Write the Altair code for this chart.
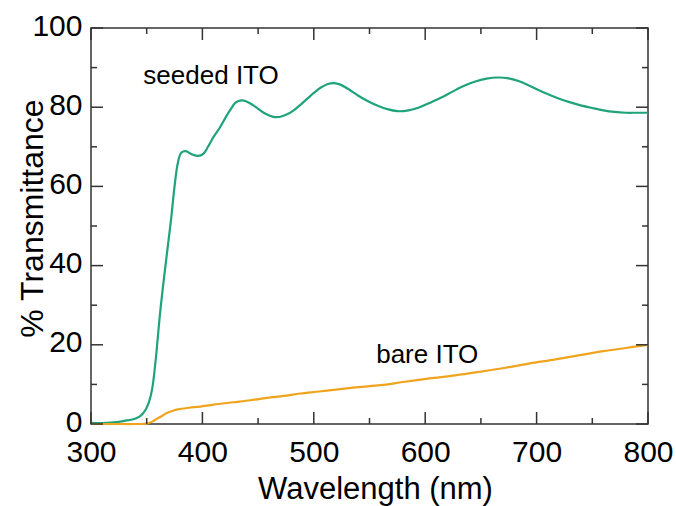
import altair as alt
import pandas as pd

# ---- data ----
seeded_wl = [300, 310, 320, 330, 340, 345, 349, 352, 355, 358, 362, 366, 369, 372, 375, 378, 381,
             385, 390, 396, 401, 405, 410, 416, 420, 425, 430, 435, 440, 445, 450, 455, 460, 465,
             470, 476, 482, 488, 494, 500, 506, 512, 518, 524, 532, 540, 550, 558, 566, 575, 585,
             595, 605, 615, 625, 635, 645, 655, 665, 675, 685, 695, 705, 718, 728, 738, 750, 760,
             770, 780, 790, 800]
seeded_T = [0.3, 0.2, 0.4, 0.8, 1.4, 2.2, 3.6, 5.5, 9.0, 16.0, 28.0, 38.0, 45.0, 52.0, 60.0, 66.0,
            68.5, 68.9, 68.2, 67.7, 68.3, 70.0, 72.5, 75.0, 77.0, 79.3, 81.2, 81.7, 81.4, 80.6,
            79.6, 78.6, 77.9, 77.5, 77.6, 78.2, 79.2, 80.6, 82.1, 83.6, 84.9, 85.8, 86.1, 85.7,
            84.4, 82.9, 81.3, 80.3, 79.5, 79.0, 79.2, 80.0, 81.2, 82.5, 84.0, 85.4, 86.5, 87.2,
            87.5, 87.3, 86.5, 85.2, 83.9, 82.4, 81.4, 80.6, 79.8, 79.2, 78.8, 78.6, 78.6, 78.6]

bare_wl = [300, 320, 340, 350, 355, 359, 364, 368, 373, 378, 388, 398, 410, 428, 443, 458, 473,
           488, 505, 520, 540, 560, 580, 604, 627, 649, 672, 694, 717, 739, 760, 780, 800]
bare_T = [0.0, 0.0, 0.0, 0.1, 0.6, 1.3, 2.1, 2.8, 3.3, 3.7, 4.1, 4.4, 4.9, 5.5, 6.0, 6.6, 7.1,
          7.7, 8.2, 8.7, 9.3, 9.8, 10.6, 11.5, 12.3, 13.2, 14.2, 15.3, 16.3, 17.4, 18.4, 19.2, 20.0]

series_names = ["seeded ITO", "bare ITO"]
series_colors = ["#1fa37a", "#f0a41e"]

label_text = ["seeded ITO", "bare ITO"]
label_wl = [347, 556]
label_T = [85.8, 15.3]

x_major = [300, 400, 500, 600, 700, 800]
x_minor = [350, 450, 550, 650, 750]
y_major = [0, 20, 40, 60, 80, 100]
y_minor = [10, 30, 50, 70, 90]

W, H = 557, 396
FONT = "Liberation Sans"
FRAME = "#333333"

df = pd.concat([
    pd.DataFrame({"wl": seeded_wl, "T": seeded_T, "series": series_names[0]}),
    pd.DataFrame({"wl": bare_wl, "T": bare_T, "series": series_names[1]}),
])

xs = alt.Scale(domain=[300, 800], nice=False, zero=False)
ys = alt.Scale(domain=[0, 100], nice=False)

x_axis = alt.Axis(
    values=x_major, ticks=False, domain=False, grid=False, labelFlush=False,
    labelFont=FONT, labelFontSize=30, labelColor="black", labelPadding=13,
    title="Wavelength (nm)", titleFont=FONT, titleFontSize=31, titleFontWeight="normal",
    titleColor="black", titleBaseline="alphabetic", titleX=284, titleY=74)
y_axis = alt.Axis(
    values=y_major, ticks=False, domain=False, grid=False, labelFlush=False,
    labelFont=FONT, labelFontSize=30, labelColor="black", labelPadding=9, labelOffset=-2,
    title="% Transmittance", titleFont=FONT, titleFontSize=32, titleFontWeight="normal",
    titleColor="black", titleAngle=-90, titleBaseline="alphabetic", titleX=-49, titleY=190)

X = alt.X("wl:Q", scale=xs, axis=x_axis, title="Wavelength (nm)")
Y = alt.Y("T:Q", scale=ys, axis=y_axis, title="% Transmittance")

lines = alt.Chart(df).mark_line(strokeWidth=2.2, interpolate="catmull-rom").encode(
    x=X, y=Y,
    color=alt.Color("series:N", scale=alt.Scale(domain=series_names, range=series_colors), legend=None),
    order=alt.Order("wl:Q"),
)

labels = alt.Chart(pd.DataFrame({"wl": label_wl, "T": label_T, "text": label_text})).mark_text(
    align="left", baseline="alphabetic", font=FONT, fontSize=26, color="black"
).encode(x=X, y=Y, text="text:N")


def xticks(vals, length, top):
    c = alt.Chart(pd.DataFrame({"wl": vals})).mark_rule(color=FRAME, strokeWidth=1.5)
    if top:
        return c.encode(x=X, y=alt.value(0), y2=alt.value(length))
    return c.encode(x=X, y=alt.value(H), y2=alt.value(H - length))


def yticks(vals, length, right):
    c = alt.Chart(pd.DataFrame({"T": vals})).mark_rule(color=FRAME, strokeWidth=1.5)
    if right:
        return c.encode(y=Y, x=alt.value(W), x2=alt.value(W - length))
    return c.encode(y=Y, x=alt.value(0), x2=alt.value(length))


ticks = [
    xticks(x_major, 12, False), xticks(x_minor, 6, False),
    xticks(x_major, 12, True), xticks(x_minor, 6, True),
    yticks(y_major, 12, False), yticks(y_minor, 6, False),
    yticks(y_major, 12, True), yticks(y_minor, 6, True),
]

chart = alt.layer(lines, labels, *ticks).properties(
    width=W, height=H,
    autosize=alt.AutoSizeParams(type="none"),
    padding={"left": 91, "top": 28, "right": 28, "bottom": 82},
    background="white",
).configure_view(stroke=FRAME, strokeWidth=1.5)

chart.save("out.html", embed_options={"renderer": "svg", "actions": False})
